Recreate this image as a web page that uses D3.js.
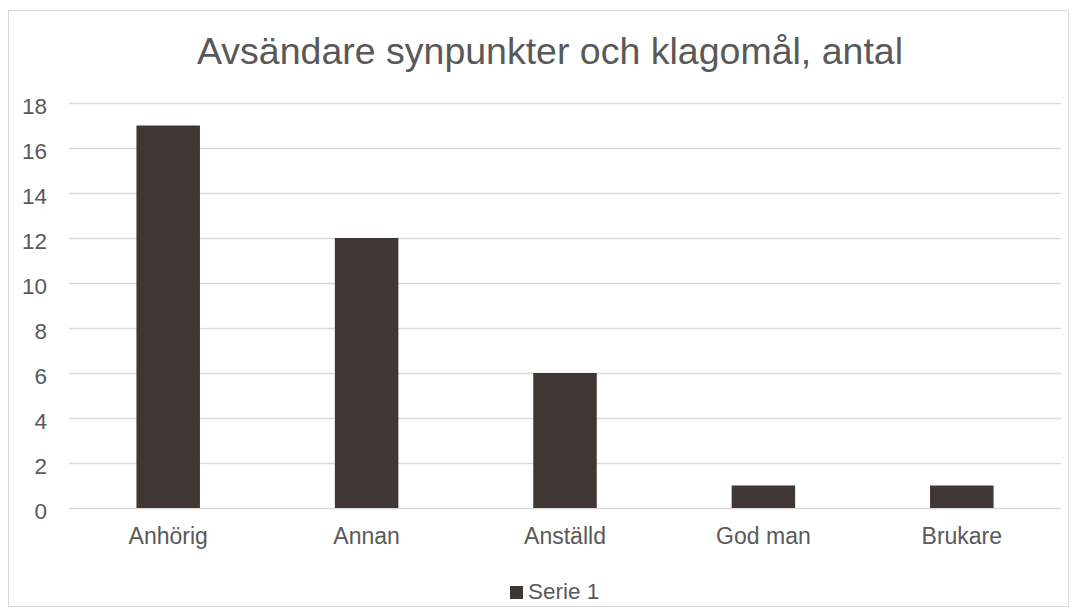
<!DOCTYPE html>
<html>
<head>
<meta charset="utf-8">
<script src="https://cdn.jsdelivr.net/npm/d3@7"></script>
<style>
  body { margin: 0; background: #fff; }
  text { font-family: "Liberation Sans", Arial, sans-serif; fill: #595959; }
</style>
</head>
<body>
<svg id="chart" width="1077" height="616"></svg>
<script>
var categories = ["Anhörig", "Annan", "Anställd", "God man", "Brukare"];
var values = [17, 12, 6, 1, 1];
var yTicks = [0, 2, 4, 6, 8, 10, 12, 14, 16, 18];
var seriesName = "Serie 1";
var title = "Avsändare synpunkter och klagomål, antal";

var svg = d3.select("#chart");
var margin = {left: 69, right: 1061, top: 103, bottom: 508};

// chart frame
svg.append("rect")
    .attr("x", 8.5).attr("y", 10.5)
    .attr("width", 1060).attr("height", 596)
    .attr("fill", "#fff")
    .attr("stroke", "#d9d9d9");

svg.append("text")
    .attr("x", 550).attr("y", 64)
    .attr("text-anchor", "middle")
    .style("font-size", "37.5px")
    .text(title);

var x = d3.scaleBand()
    .domain(categories)
    .range([margin.left, margin.right])
    .paddingInner(0.68)
    .paddingOuter(0.34);

var y = d3.scaleLinear()
    .domain([0, 18])
    .range([margin.bottom, margin.top]);

// gridlines
svg.append("g")
  .selectAll("line")
  .data(yTicks)
  .join("line")
    .attr("x1", margin.left).attr("x2", margin.right)
    .attr("y1", function(d) { return Math.round(y(d)) + 0.5; })
    .attr("y2", function(d) { return Math.round(y(d)) + 0.5; })
    .attr("stroke", "#d9d9d9")
    .attr("stroke-width", 1.5);

// y axis labels
var yAxis = d3.axisLeft(y).tickValues(yTicks).tickSize(0).tickPadding(0);
var yg = svg.append("g")
    .attr("transform", "translate(47,3)")
    .call(yAxis);
yg.select(".domain").remove();
yg.selectAll("text")
    .style("font-size", "22.5px")
    .attr("font-family", null)
    .attr("fill", "#595959");

// bars
svg.append("g")
  .selectAll("rect")
  .data(values)
  .join("rect")
    .attr("x", function(d, i) { return x(categories[i]); })
    .attr("width", x.bandwidth())
    .attr("y", function(d) { return y(d); })
    .attr("height", function(d) { return y(0) - y(d); })
    .attr("fill", "#403633");

// category labels
var xAxis = d3.axisBottom(x).tickSize(0).tickPadding(0);
var xg = svg.append("g")
    .attr("transform", "translate(0,528)")
    .call(xAxis);
xg.select(".domain").remove();
xg.selectAll("text")
    .style("font-size", "23px")
    .attr("font-family", null)
    .attr("fill", "#595959");

// legend
var legend = svg.append("g").attr("transform", "translate(510,586)");
legend.append("rect")
    .attr("width", 13).attr("height", 13)
    .attr("fill", "#403633");
legend.append("text")
    .attr("x", 18).attr("y", 13)
    .style("font-size", "22.5px")
    .text(seriesName);
</script>
</body>
</html>
